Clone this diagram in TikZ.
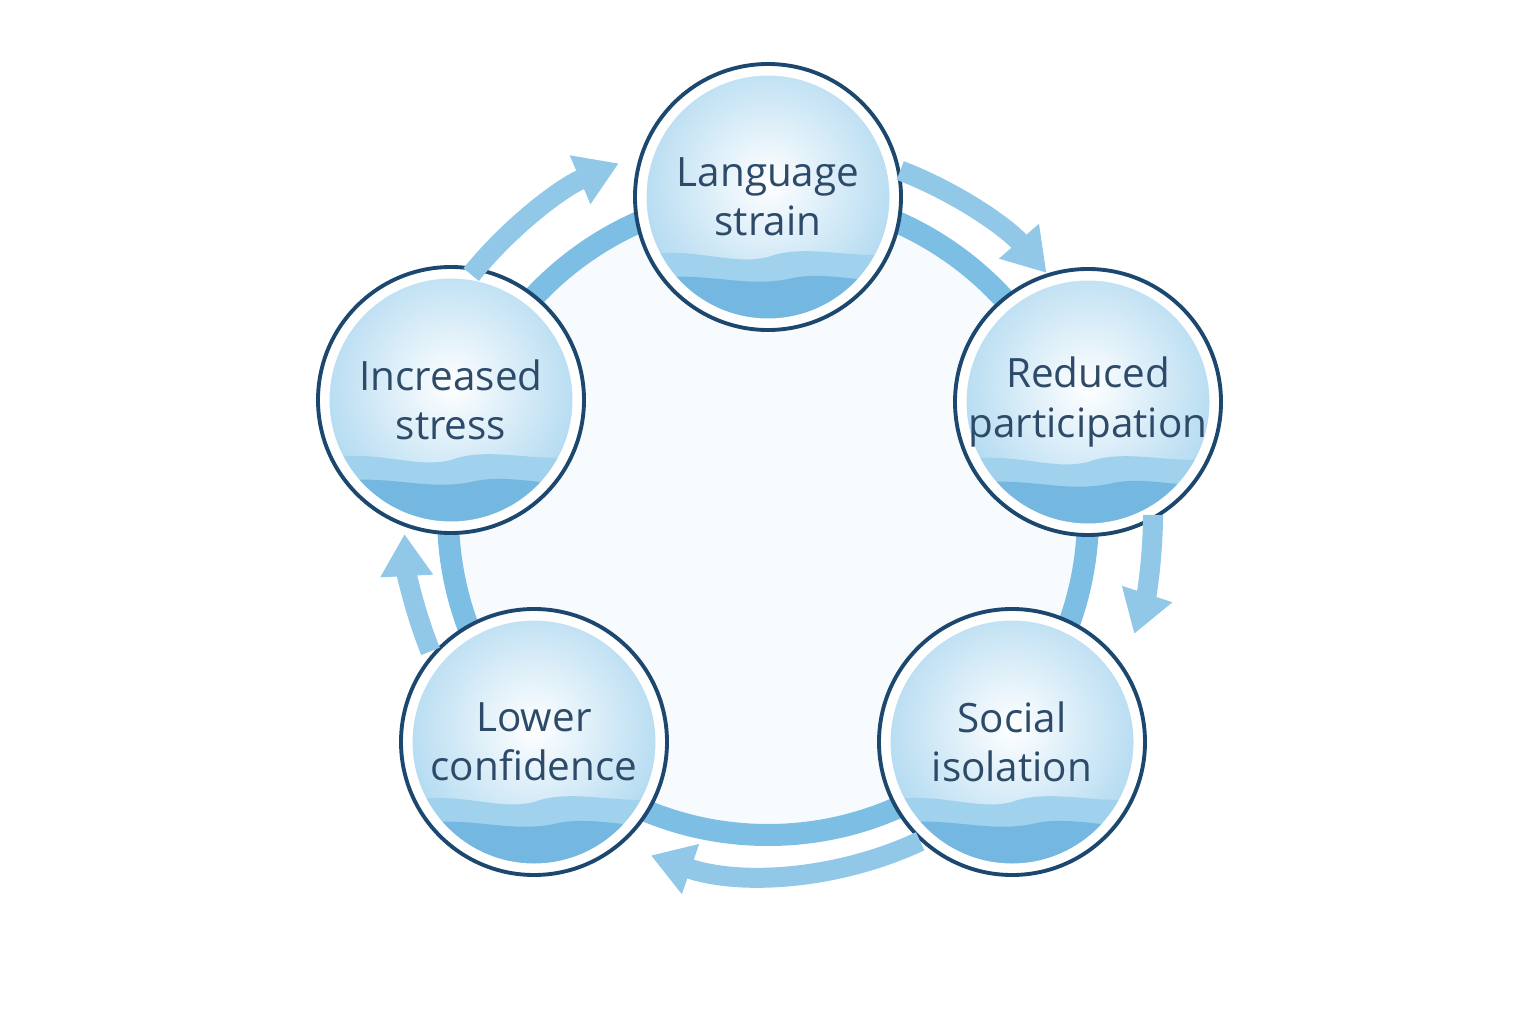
\documentclass[tikz,border=0pt]{standalone}
\usepackage{fontspec}
\setmainfont{Open Sans}
\usetikzlibrary{arrows.meta,positioning,calc}
\definecolor{inkblue}{RGB}{28,72,112}
\definecolor{textblue}{RGB}{45,75,105}
\definecolor{skyblue}{RGB}{120,190,230}
\definecolor{deepsky}{RGB}{70,160,215}
\definecolor{ringblue}{RGB}{125,190,228}
\begin{document}
\begin{tikzpicture}[
  bubble/.style={circle, draw=inkblue, line width=1.1pt, minimum size=2.66cm, align=center,
    font=\fontsize{11.5}{14}\selectfont, text=textblue, inner sep=0pt, fill=white,
    path picture={
      \coordinate (pc) at (path picture bounding box.center);
      \shade[inner color=white, outer color=skyblue!55] ($(pc)+(0,0.15)$) circle (1.3);
      \fill[skyblue!70] ($(pc)+(-1.4,-0.62)$) .. controls +(0.6,0.17) and +(-0.4,-0.1) .. ($(pc)+(0,-0.6)$)
        .. controls +(0.4,0.15) and +(-0.5,-0.1) .. ($(pc)+(1.4,-0.55)$) -- ($(pc)+(1.4,-1.4)$) -- ($(pc)+(-1.4,-1.4)$) -- cycle;
      \fill[deepsky!75] ($(pc)+(-1.4,-0.85)$) .. controls +(0.7,0.15) and +(-0.5,-0.1) .. ($(pc)+(0.2,-0.82)$)
        .. controls +(0.4,0.1) and +(-0.4,-0.1) .. ($(pc)+(1.4,-0.8)$) -- ($(pc)+(1.4,-1.4)$) -- ($(pc)+(-1.4,-1.4)$) -- cycle;
      \draw[white, line width=0.11cm] (pc) circle (1.27);
    }},
  flow/.style={-{Triangle[length=0.42cm,width=0.5cm]}, line width=0.2cm, ringblue!85},
  x=1cm, y=1cm
]
\useasboundingbox (0,0) rectangle (15.36,10.24);

% Ring behind the stages
\coordinate (ctr) at (7.68,5.09);
\fill[ringblue!6] (ctr) circle (3.1);
\draw[ringblue, line width=0.22cm] (ctr) circle (3.2);

% Stages
\node[bubble] (lang) at (7.68,8.27) {Language\\strain};
\node[bubble] (part) at (10.88,6.22) {Reduced\\participation};
\node[bubble] (iso) at (10.12,2.82) {Social\\isolation};
\node[bubble] (conf) at (5.34,2.82) {Lower\\confidence};
\node[bubble] (stress) at (4.51,6.24) {Increased\\stress};

% Outer arrows
\draw[flow] ([shift={(69:3.69)}]ctr) arc[start angle=69, end angle=41, radius=3.69];
\draw[flow] ([shift={(0:3.85)}]ctr) arc[start angle=0, end angle=-18, radius=3.85];
\draw[flow] ([shift={(-65:3.6)}]ctr) arc[start angle=-65, end angle=-109, radius=3.6];
\draw[flow] ([shift={(-158:3.64)}]ctr) arc[start angle=-158, end angle=-177, radius=3.64];
\draw[flow] ([shift={(141:3.82)}]ctr) arc[start angle=141, end angle=113, radius=3.82];

\end{tikzpicture}
\end{document}
